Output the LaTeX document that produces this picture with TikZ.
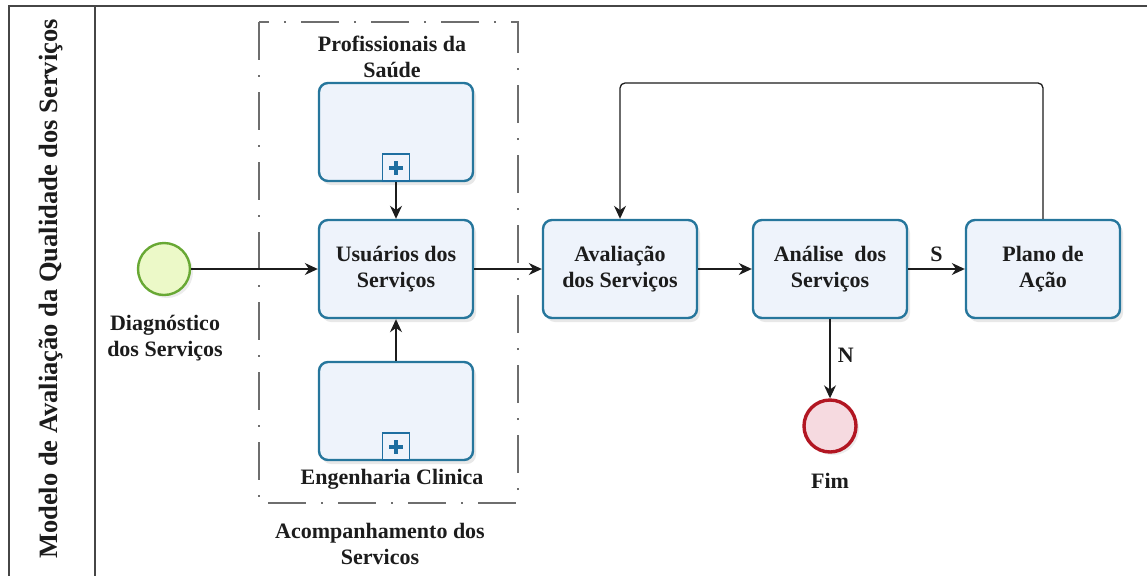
\documentclass[tikz,border=0pt]{standalone}
\usepackage{fontspec}
\setmainfont{Liberation Serif}[BoldFont={Liberation Serif Bold}]
\newfontfamily\diagfont{Liberation Serif}[BoldFont={Liberation Serif Bold}]
\usetikzlibrary{arrows.meta,shadows,positioning}

\definecolor{taskborder}{RGB}{38,118,156}
\definecolor{taskfill}{RGB}{238,243,251}
\definecolor{startborder}{RGB}{104,168,52}
\definecolor{startfill}{RGB}{236,249,200}
\definecolor{endborder}{RGB}{178,22,34}
\definecolor{endfill}{RGB}{246,218,224}
\definecolor{ink}{RGB}{28,28,28}
\definecolor{frame}{RGB}{70,70,70}
\definecolor{groupline}{RGB}{110,110,110}
\definecolor{plusblue}{RGB}{30,110,160}

\tikzset{
  txt/.style={font=\diagfont\fontsize{22}{26}\selectfont\bfseries, text=ink, align=center},
  task/.style={draw=taskborder, fill=taskfill, line width=2.4pt, rounded corners=9pt,
    minimum width=154pt, minimum height=98pt, inner sep=0pt, txt,
    drop shadow={shadow xshift=3pt, shadow yshift=-4pt, opacity=0.18, fill=gray}},
  startev/.style={circle, draw=startborder, fill=startfill, line width=2.4pt,
    minimum size=52pt, inner sep=0pt,
    drop shadow={shadow xshift=3pt, shadow yshift=-3pt, opacity=0.15, fill=gray}},
  endev/.style={circle, draw=endborder, fill=endfill, line width=3.4pt,
    minimum size=52pt, inner sep=0pt,
    drop shadow={shadow xshift=3pt, shadow yshift=-3pt, opacity=0.15, fill=gray}},
  flow/.style={draw=ink, line width=1.3pt, -{Stealth[length=13pt,width=12pt]}},
  lbl/.style={txt},
  groupbox/.style={draw=groupline, line width=1.8pt,
    dash pattern=on 38pt off 15pt on 2pt off 15pt},
  plusmark/.style={draw=plusblue, fill=taskfill, line width=1.8pt, minimum size=27pt, inner sep=0pt}
}

\begin{document}
\begin{tikzpicture}[x=1pt,y=-1pt]
  \useasboundingbox (0,0) rectangle (1147,576);

  % pool frame with the rotated title lane
  \draw[frame, line width=2pt] (1147,6) -- (9,6) -- (9,576);
  \draw[frame, line width=2pt] (95,6) -- (95,576);
  \node[rotate=90, font=\diagfont\fontsize{26.5}{30}\selectfont\bfseries, text=ink] (title) at (51,289)
    {Modelo de Avaliação da Qualidade dos Serviços};

  % dashed group around the monitoring tasks
  \draw[groupbox] (259,22) rectangle (518,503);

  % start event
  \node[startev] (start) at (164,269) {};
  \node[lbl] (startlbl) at (165,338) {Diagnóstico\\dos Serviços};

  % sub-processes and tasks
  \node[task] (prof) at (396,132) {};
  \node[plusmark, anchor=south] (profplus) at (prof.south) {};
  \draw[plusblue, line width=4pt] ([yshift=-7pt]profplus.center) -- ([yshift=7pt]profplus.center)
        ([xshift=-7pt]profplus.center) -- ([xshift=7pt]profplus.center);
  \node[lbl] (proflbl) at (392,57) {Profissionais da\\Saúde};

  \node[task] (usu) at (396,269) {Usuários dos\\Serviços};

  \node[task] (eng) at (396,411) {};
  \node[plusmark, anchor=south] (engplus) at (eng.south) {};
  \draw[plusblue, line width=4pt] ([yshift=-7pt]engplus.center) -- ([yshift=7pt]engplus.center)
        ([xshift=-7pt]engplus.center) -- ([xshift=7pt]engplus.center);
  \node[lbl] (englbl) at (392,479) {Engenharia Clinica};

  \node[lbl] (grouplbl) at (380,544) {Acompanhamento dos\\Servicos};

  \node[task] (aval) at (620,269) {Avaliação\\dos Serviços};
  \node[task] (anal) at (830,269) {Análise\ \ dos\\Serviços};
  \node[task] (plano) at (1043,269) {Plano de\\Ação};

  % end event
  \node[endev] (fim) at (830,426) {};
  \node[lbl] (fimlbl) at (830,481) {Fim};

  % sequence flows
  \draw[flow] (start) -- (usu);
  \draw[flow] (prof.south) -- (usu.north);
  \draw[flow] (eng.north) -- (usu.south);
  \draw[flow] (usu) -- (aval);
  \draw[flow] (aval) -- (anal);
  \draw[flow] (anal) -- node[lbl, above=3pt] (slbl) {S} (plano);
  \draw[flow] (anal.south) -- node[lbl, right=4pt, pos=0.45] (nlbl) {N} (fim.north);
  \draw[flow, rounded corners=5pt] (plano.north) -- (plano.north |- 0,83) -- (aval.north |- 0,83) -- (aval.north);
\end{tikzpicture}
\end{document}
